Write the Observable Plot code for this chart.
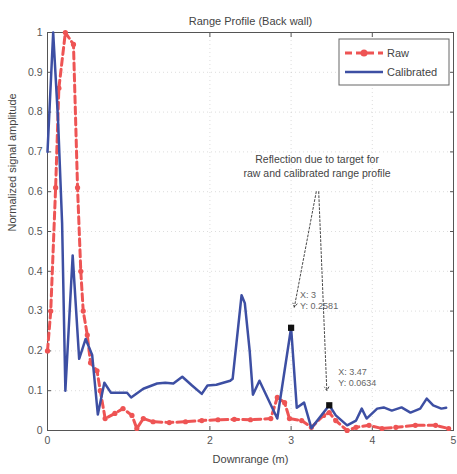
<!DOCTYPE html>
<html>
<head>
<meta charset="utf-8">
<script src="https://cdn.jsdelivr.net/npm/d3@7"></script>
<script src="https://cdn.jsdelivr.net/npm/@observablehq/plot@0.6"></script>
<style>
  body { margin: 0; background: #fff; }
  svg { font-family: "Liberation Sans", Arial, sans-serif; }
</style>
</head>
<body>
<div id="chart"></div>
<script>
// Range profile of the back wall: raw vs calibrated, normalized amplitude over downrange (m)
const rawX = [0, 0.04, 0.10, 0.14, 0.22, 0.32, 0.37, 0.41, 0.44, 0.49, 0.53, 0.61, 0.65, 0.71, 0.83, 0.93, 1.04, 1.10, 1.18, 1.30, 1.50, 1.70, 1.90, 2.10, 2.30, 2.50, 2.75, 2.83, 2.92, 2.98, 3.13, 3.25, 3.40, 3.47, 3.55, 3.69, 3.80, 3.96, 4.12, 4.29, 4.53, 4.78, 4.94];
const rawY = [0.20, 0.30, 0.61, 0.86, 1.00, 0.97, 0.61, 0.40, 0.30, 0.24, 0.17, 0.15, 0.10, 0.03, 0.043, 0.055, 0.038, 0.005, 0.03, 0.022, 0.02, 0.022, 0.025, 0.027, 0.028, 0.027, 0.03, 0.083, 0.07, 0.03, 0.025, 0.008, 0.038, 0.045, 0.025, 0.0, 0.008, 0.013, 0.005, 0.008, 0.013, 0.013, 0.005];

const calX = [0, 0.07, 0.13, 0.18, 0.22, 0.31, 0.39, 0.47, 0.55, 0.62, 0.70, 0.78, 0.98, 1.03, 1.18, 1.35, 1.45, 1.55, 1.66, 1.78, 1.90, 1.97, 2.08, 2.25, 2.28, 2.39, 2.43, 2.49, 2.53, 2.61, 2.83, 3.00, 3.07, 3.16, 3.25, 3.47, 3.55, 3.69, 3.80, 3.87, 3.93, 4.06, 4.14, 4.24, 4.36, 4.47, 4.59, 4.67, 4.75, 4.85, 4.91];
const calY = [0.70, 1.00, 0.78, 0.52, 0.10, 0.44, 0.18, 0.23, 0.19, 0.04, 0.12, 0.095, 0.095, 0.083, 0.105, 0.118, 0.12, 0.118, 0.135, 0.113, 0.092, 0.113, 0.115, 0.125, 0.13, 0.34, 0.32, 0.20, 0.09, 0.125, 0.03, 0.2581, 0.057, 0.07, 0.006, 0.0634, 0.038, 0.013, 0.025, 0.055, 0.03, 0.055, 0.058, 0.05, 0.058, 0.045, 0.055, 0.08, 0.063, 0.055, 0.057];

// Data tips marked on the target reflection
const tipX = [3.00, 3.47];
const tipY = [0.2581, 0.0634];
const tipLabels = ["X: 3\nY: 0.2581", "X: 3.47\nY: 0.0634"];

const xTicks = [0, 2, 3, 4, 5];
const yTicks = [0, 0.1, 0.2, 0.3, 0.4, 0.5, 0.6, 0.7, 0.8, 0.9, 1];

const titleText = "Range Profile (Back wall)";
const xLabel = "Downrange (m)";
const yLabel = "Normalized signal amplitude";
const noteText = "Reflection due to target for\nraw and calibrated range profile";
const seriesNames = ["Raw", "Calibrated"];

const RED = "#ee5454";
const BLUE = "#3d4fa3";

const raw = rawX.map((x, i) => ({x, y: rawY[i]}));
const cal = calX.map((x, i) => ({x, y: calY[i]}));
const tips = tipX.map((x, i) => ({x, y: tipY[i], label: tipLabels[i]}));

const yFmt = d => d === 0 || d === 1 ? String(d) : d3.format(".1f")(d);

const chart = Plot.plot({
  width: 457,
  height: 474,
  marginLeft: 47,
  marginRight: 4,
  marginTop: 32,
  marginBottom: 44,
  style: {fontFamily: "Liberation Sans, Arial, sans-serif", fontSize: "10px", color: "#555"},
  x: {domain: [0, 5]},
  y: {domain: [0, 1]},
  marks: [
    Plot.gridX(xTicks, {stroke: "#bbb", strokeOpacity: 0.5, strokeDasharray: "1,3"}),
    Plot.gridY(yTicks, {stroke: "#bbb", strokeOpacity: 0.5, strokeDasharray: "1,3"}),
    Plot.axisX({ticks: xTicks, tickSize: -4, tickPadding: 10, tickFormat: d3.format("d"), label: null, fontSize: 10.5}),
    Plot.axisX({anchor: "top", ticks: xTicks, tickSize: -4, tickFormat: () => "", label: null}),
    Plot.axisY({ticks: yTicks, tickSize: -4, tickPadding: 9, tickFormat: yFmt, label: null, fontSize: 10.5}),
    Plot.axisY({anchor: "right", ticks: yTicks, tickSize: -4, tickFormat: () => "", label: null}),
    Plot.frame({stroke: "#555"}),
    Plot.line(raw, {x: "x", y: "y", stroke: RED, strokeWidth: 3, strokeDasharray: "7,4"}),
    Plot.dot(raw, {x: "x", y: "y", r: 2.6, fill: RED}),
    Plot.line(cal, {x: "x", y: "y", stroke: BLUE, strokeWidth: 2.5}),
    Plot.arrow([{x1: 3.31, y1: 0.60, x2: 3.04, y2: 0.31}, {x1: 3.34, y1: 0.60, x2: 3.44, y2: 0.10}],
      {x1: "x1", y1: "y1", x2: "x2", y2: "y2", stroke: "#333", strokeWidth: 0.9, strokeDasharray: "2,2", headLength: 7}),
    Plot.dot(tips, {x: "x", y: "y", symbol: "square", r: 3.5, fill: "#111"}),
    Plot.text(tips, {x: "x", y: "y", text: "label", textAnchor: "start", dx: 9, dy: -28, fontSize: 9, fill: "#666", lineHeight: 1.25}),
    Plot.text([noteText], {x: 3.32, y: 0.665, fontSize: 10.5, fill: "#444", lineHeight: 1.25}),
    Plot.text([titleText], {frameAnchor: "top", dy: -15, fontSize: 11, fill: "#444"}),
    Plot.text([xLabel], {frameAnchor: "bottom", dy: 32, fontSize: 11, fill: "#444"}),
    Plot.text([yLabel], {frameAnchor: "left", dx: -35, rotate: -90, fontSize: 11, fill: "#444"})
  ]
});

document.getElementById("chart").append(chart);

// Legend box in the upper right corner of the frame
const svg = d3.select(chart);
const lg = svg.append("g").attr("transform", "translate(339,39)").attr("text-anchor", "start");
lg.append("rect").attr("width", 110).attr("height", 46).attr("fill", "#fff").attr("stroke", "#666");
lg.append("line").attr("x1", 6).attr("x2", 44).attr("y1", 14).attr("y2", 14)
  .attr("stroke", RED).attr("stroke-width", 3).attr("stroke-dasharray", "7,4");
lg.append("circle").attr("cx", 25).attr("cy", 14).attr("r", 3.5).attr("fill", RED);
lg.append("line").attr("x1", 6).attr("x2", 44).attr("y1", 33).attr("y2", 33)
  .attr("stroke", BLUE).attr("stroke-width", 2.5);
lg.selectAll("text.name").data(seriesNames).join("text")
  .attr("class", "name")
  .attr("x", 48).attr("y", (d, i) => 18 + i * 19)
  .attr("font-size", 11).attr("fill", "#444").text(d => d);
</script>
</body>
</html>
